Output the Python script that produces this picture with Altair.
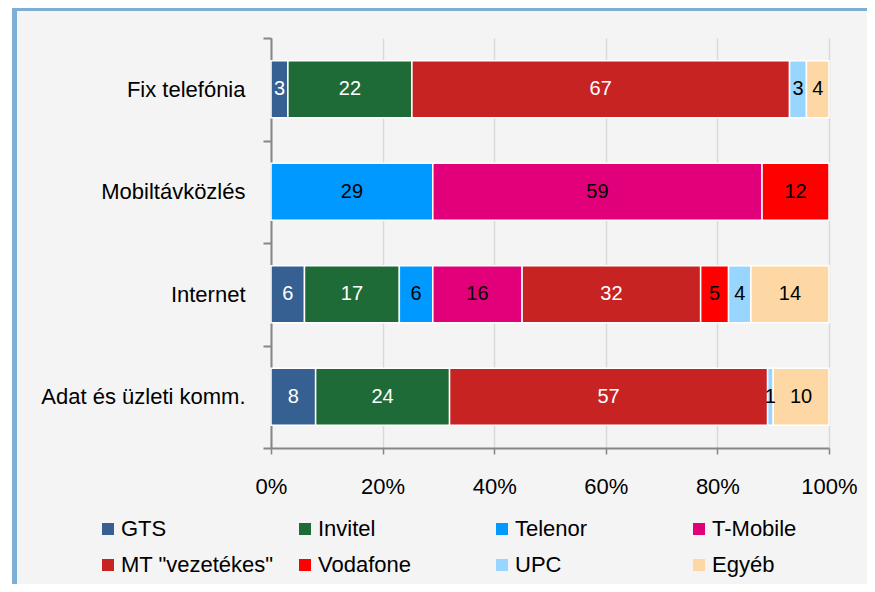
import altair as alt
import pandas as pd

categories = ["Fix telefónia", "Mobiltávközlés", "Internet", "Adat és üzleti komm."]
companies = ["GTS", "Invitel", "Telenor", "T-Mobile", 'MT "vezetékes"', "Vodafone", "UPC", "Egyéb"]
colors = ["#376092", "#1f6b38", "#0099ff", "#e2007a", "#c82323", "#ff0000", "#99d6ff", "#fed8a4"]
white_text = ["GTS", "Invitel", 'MT "vezetékes"']

gts = [3, 0, 6, 8]
invitel = [22, 0, 17, 24]
telenor = [0, 29, 6, 0]
tmobile = [0, 59, 16, 0]
mt = [67, 0, 32, 57]
vodafone = [0, 12, 5, 0]
upc = [3, 0, 4, 1]
egyeb = [4, 0, 14, 10]
series = [gts, invitel, telenor, tmobile, mt, vodafone, upc, egyeb]

x_ticks = [0, 0.2, 0.4, 0.6, 0.8, 1.0]

rows = []
for ci, comp in enumerate(companies):
    for ki, cat in enumerate(categories):
        v = series[ci][ki]
        if v > 0:
            rows.append({"cat": cat, "company": comp, "value": v, "order": ci})
df = pd.DataFrame(rows)

# legend fills column by column: reorder so it reads row by row (4 columns, 2 rows)
leg_order = [companies[i] for i in (0, 4, 1, 5, 2, 6, 3, 7)]
leg_colors = [colors[i] for i in (0, 4, 1, 5, 2, 6, 3, 7)]

FONT = "Liberation Sans, Arial, sans-serif"
FS = 22
W, H = 558, 410

base = alt.Chart(df).transform_stack(
    stack="value", groupby=["cat"], as_=["x0", "x1"], offset="normalize",
    sort=[alt.SortField("order", order="ascending")]
).transform_calculate(mid="(datum.x0 + datum.x1) / 2")

y_enc = alt.Y("cat:N", sort=categories, title=None,
              scale=alt.Scale(paddingInner=0, paddingOuter=0),
              axis=alt.Axis(tickBand="extent", domainColor="#868686", domainWidth=2,
                            tickColor="#868686", tickWidth=2, tickSize=8,
                            labelFontSize=FS, labelFont=FONT, labelColor="#000000",
                            labelPadding=18, labelLimit=400, grid=False))

bars = base.mark_bar(size=57, stroke="white", strokeWidth=1.5).encode(
    x=alt.X("x0:Q", title=None, scale=alt.Scale(domain=[0, 1]),
            axis=alt.Axis(values=x_ticks, format=".0%", grid=True, gridColor="#d9d9d9",
                          gridWidth=1.5, domainColor="#868686", domainWidth=2,
                          tickColor="#868686", tickWidth=1.5, tickSize=6,
                          labelFontSize=FS, labelFont=FONT, labelColor="#000000",
                          labelPadding=22, labelFlush=False)),
    x2="x1:Q",
    y=y_enc,
    color=alt.Color("company:N",
                    scale=alt.Scale(domain=leg_order, range=leg_colors),
                    legend=alt.Legend(title=None, orient="none", legendX=-174, legendY=480,
                                      columns=4, gridAlign="all", columnPadding=20,
                                      rowPadding=14, symbolType="square", symbolSize=144,
                                      symbolStrokeWidth=0, labelFontSize=FS, labelFont=FONT,
                                      labelColor="#000000", labelOffset=2, labelLimit=400)),
)

labels = base.mark_text(font=FONT, fontSize=20, baseline="middle", align="center").encode(
    x=alt.X("mid:Q"),
    y=alt.Y("cat:N", sort=categories),
    text=alt.Text("value:Q", format="d"),
    color=alt.condition(alt.FieldOneOfPredicate(field="company", oneOf=white_text),
                        alt.value("white"), alt.value("black")),
)

frame_c = "#7bafd4"
frame_left = alt.Chart(df).mark_rule(color=frame_c, strokeWidth=5).encode(
    x=alt.value(-257), y=alt.value(-30), y2=alt.value(H + 140))
frame_top = alt.Chart(df).mark_rule(color=frame_c, strokeWidth=3).encode(
    x=alt.value(-259.5), x2=alt.value(W + 40), y=alt.value(-28.5))
frame_white = alt.Chart(df).mark_rule(color="white", strokeWidth=3.5).encode(
    x=alt.value(-261.25), y=alt.value(-30), y2=alt.value(H + 140))

chart = alt.layer(bars, labels, frame_left, frame_top, frame_white).properties(
    width=W, height=H,
    autosize=alt.AutoSizeParams(type="none"),
    padding={"left": 263, "top": 30, "right": 38, "bottom": 136},
    background="#f4f4f4",
).configure_view(stroke=None).resolve_scale(color="independent")

chart.save("out.html", embed_options={"renderer": "svg", "actions": False})
